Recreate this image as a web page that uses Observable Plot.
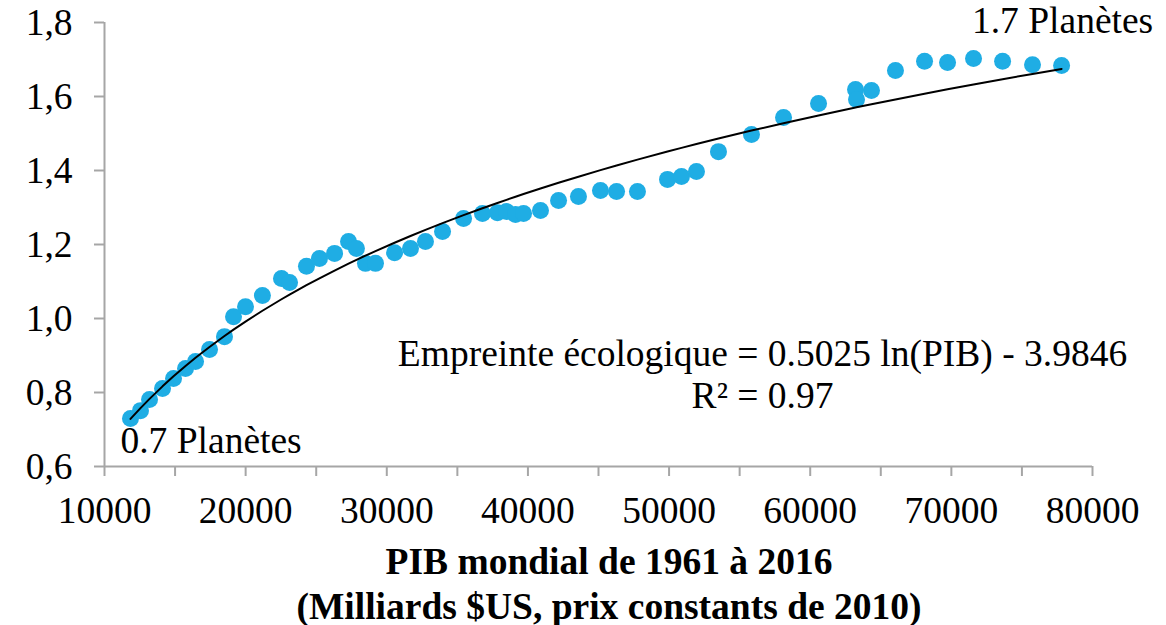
<!DOCTYPE html>
<html>
<head>
<meta charset="utf-8">
<script src="https://cdn.jsdelivr.net/npm/d3@7"></script>
<script src="https://cdn.jsdelivr.net/npm/@observablehq/plot@0.6"></script>
<style>
  html, body { margin: 0; padding: 0; background: #fff; overflow: hidden; }
  #wrap { position: relative; width: 1166px; height: 625px; font-family: "Liberation Serif", "Times New Roman", serif; }
  #xtitle { position: absolute; left: 100px; width: 1018px; top: 539px; text-align: center; font-weight: bold; font-size: 37.5px; line-height: 45px; color: #000; }
</style>
</head>
<body>
<div id="wrap">
  <div id="chart"></div>
  <div id="xtitle">PIB mondial de 1961 à 2016<br>(Milliards $US, prix constants de 2010)</div>
</div>
<script>
// PIB mondial (milliards $US 2010), 1961-2016
const gdp = [11842, 12550, 13190, 14110, 14890, 15740, 16450, 17440, 18500, 19140,
  19990, 21190, 22540, 23110, 24310, 25230, 26300, 27290, 27850, 28490,
  29200, 30550, 31680, 32740, 33950, 35440, 36780, 37840, 38480, 39120,
  39690, 40890, 42170, 43580, 45140, 46280, 47760, 49890, 50880, 51940,
  53500, 55840, 58110, 60590, 63210, 63280, 64340, 66040, 68100, 69730,
  71570, 73630, 75750, 77810];
// Empreinte écologique (nombre de planètes)
const footprint = [0.730, 0.751, 0.781, 0.811, 0.838, 0.865, 0.884, 0.916, 0.951, 1.005,
  1.032, 1.062, 1.108, 1.097, 1.141, 1.162, 1.176, 1.208, 1.189, 1.149,
  1.149, 1.178, 1.189, 1.208, 1.235, 1.270, 1.284, 1.286, 1.289, 1.281,
  1.284, 1.292, 1.319, 1.330, 1.346, 1.343, 1.343, 1.376, 1.384, 1.397,
  1.451, 1.497, 1.543, 1.581, 1.619, 1.592, 1.616, 1.670, 1.695, 1.692,
  1.703, 1.695, 1.686, 1.684];

const xTicks = [10000, 20000, 30000, 40000, 50000, 60000, 70000, 80000];
const xMinorTicks = [10000, 15000, 20000, 25000, 30000, 35000, 40000, 45000, 50000, 55000, 60000, 65000, 70000, 75000, 80000];
const yTicks = [0.6, 0.8, 1.0, 1.2, 1.4, 1.6, 1.8];

// Courbe de tendance logarithmique affichée sur le graphique
const coefA = 0.5025;
const coefB = -3.9846;
const r2 = 0.97;

const startLabel = "0.7 Planètes";
const endLabel = "1.7 Planètes";
const equationLabel = `Empreinte écologique = ${coefA} ln(PIB) - ${Math.abs(coefB)}\nR² = ${r2}`;

const points = gdp.map((g, i) => ({gdp: g, fp: footprint[i]}));
const trend = gdp.map(g => ({gdp: g, fp: coefA * Math.log(g) + coefB}));
const first = points[0];
const last = points[points.length - 1];

const axisGrey = "#a6a6a6";
const dotBlue = "#1fade4";
const fs = 37.5;

const chart = Plot.plot({
  width: 1166,
  height: 530,
  marginLeft: 104,
  marginRight: 74,
  marginTop: 22,
  marginBottom: 64,
  x: {domain: [10000, 80000]},
  y: {domain: [0.6, 1.8]},
  style: {fontFamily: "'Liberation Serif', 'Times New Roman', serif", fontSize: fs + "px", color: "black", background: "white", overflow: "visible"},
  marks: [
    Plot.axisY({ticks: yTicks, tickSize: 10, tickPadding: 22, strokeWidth: 2, stroke: axisGrey, fill: "black",
      tickFormat: d => d.toFixed(1).replace(".", ","), label: null, fontSize: fs}),
    Plot.axisX({ticks: xMinorTicks, tickSize: 10, strokeWidth: 2, stroke: axisGrey, tickFormat: () => "", label: null}),
    Plot.axisX({ticks: xTicks, tickSize: 0, tickPadding: 30, fill: "black", tickFormat: d3.format("d"), label: null, fontSize: fs}),
    Plot.ruleX([10000], {stroke: axisGrey, strokeWidth: 2}),
    Plot.ruleY([0.6], {stroke: axisGrey, strokeWidth: 2}),
    Plot.dot(points, {x: "gdp", y: "fp", r: 8.5, fill: dotBlue, stroke: "none"}),
    Plot.line(trend, {x: "gdp", y: "fp", stroke: "black", strokeWidth: 2}),
    Plot.text([first], {x: "gdp", y: "fp", text: () => startLabel, textAnchor: "start", lineAnchor: "bottom", dx: -10, dy: 35, fontSize: fs, fill: "black"}),
    Plot.text([last], {x: "gdp", y: "fp", text: () => endLabel, textAnchor: "middle", lineAnchor: "bottom", dx: 1, dy: -32, fontSize: fs, fill: "black"}),
    Plot.text([{gdp: 56620, fp: 0.757}], {x: "gdp", y: "fp", text: () => equationLabel, textAnchor: "middle", lineAnchor: "bottom", lineHeight: 1.12, fontSize: fs, fill: "black"})
  ]
});
document.getElementById("chart").appendChild(chart);
</script>
</body>
</html>
